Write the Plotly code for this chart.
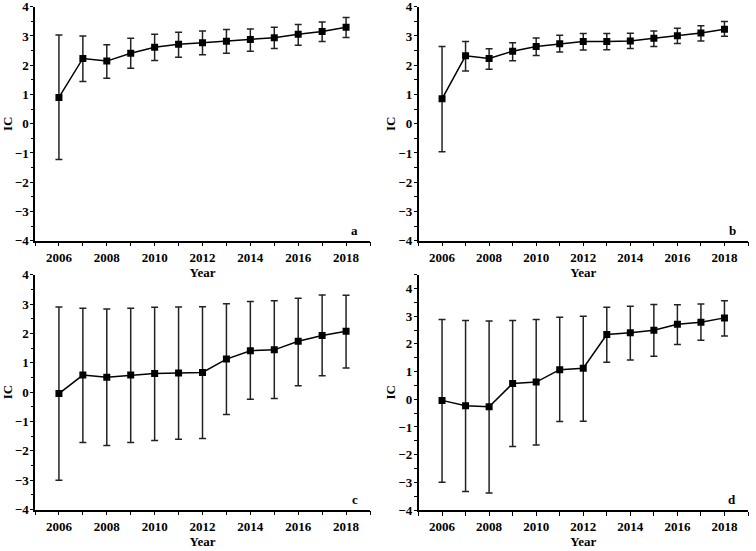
import plotly.graph_objects as go

years = list(range(2006, 2019))

# Panel a
a_mean = [0.90, 2.23, 2.14, 2.41, 2.61, 2.72, 2.77, 2.82, 2.875, 2.94, 3.06, 3.15, 3.30]
a_upper = [3.03, 3.00, 2.70, 2.92, 3.06, 3.13, 3.17, 3.22, 3.24, 3.30, 3.39, 3.48, 3.63]
a_lower = [-1.22, 1.44, 1.55, 1.90, 2.16, 2.27, 2.36, 2.41, 2.48, 2.57, 2.68, 2.81, 2.95]

# Panel b
b_mean = [0.85, 2.32, 2.23, 2.48, 2.64, 2.73, 2.81, 2.81, 2.83, 2.92, 3.01, 3.10, 3.23]
b_upper = [2.64, 2.81, 2.56, 2.77, 2.93, 3.02, 3.08, 3.08, 3.09, 3.17, 3.26, 3.35, 3.49]
b_lower = [-0.96, 1.80, 1.86, 2.15, 2.33, 2.45, 2.52, 2.53, 2.57, 2.64, 2.74, 2.83, 2.99]

# Panel c
c_mean = [-0.05, 0.58, 0.51, 0.58, 0.63, 0.65, 0.67, 1.125, 1.41, 1.44, 1.73, 1.93, 2.07]
c_upper = [2.90, 2.86, 2.83, 2.86, 2.89, 2.90, 2.91, 3.01, 3.09, 3.11, 3.20, 3.31, 3.30]
c_lower = [-3.00, -1.72, -1.82, -1.72, -1.65, -1.61, -1.58, -0.76, -0.24, -0.22, 0.22, 0.56, 0.82]

# Panel d
d_mean = [-0.04, -0.23, -0.27, 0.57, 0.62, 1.07, 1.12, 2.34, 2.40, 2.49, 2.71, 2.78, 2.94]
d_upper = [2.88, 2.85, 2.83, 2.85, 2.88, 2.96, 3.00, 3.32, 3.36, 3.42, 3.41, 3.44, 3.56]
d_lower = [-3.00, -3.33, -3.39, -1.71, -1.65, -0.80, -0.79, 1.34, 1.42, 1.55, 1.98, 2.13, 2.29]

panel_labels = ["a", "b", "c", "d"]
x_tickvals = list(range(2005, 2020))
x_ticktext = [str(v) if v % 2 == 0 and 2006 <= v <= 2018 else "" for v in x_tickvals]
y_ticks = [-4, -3, -2, -1, 0, 1, 2, 3, 4]

FONT = "Times New Roman, Liberation Serif, serif"

panels = [
    (a_mean, a_upper, a_lower, "x", "y", [35/756, 370/756], [310.3/551, 544.3/551], [-4, 4]),
    (b_mean, b_upper, b_lower, "x2", "y2", [418.5/756, 748/756], [310.3/551, 544.3/551], [-4, 4]),
    (c_mean, c_upper, c_lower, "x3", "y3", [35/756, 370/756], [41.5/551, 276.3/551], [-4, 4]),
    (d_mean, d_upper, d_lower, "x4", "y4", [418.5/756, 748/756], [41/551, 276.3/551], [-4, 4.5]),
]

fig = go.Figure()
layout = dict(
    width=756, height=551,
    margin=dict(l=0, r=0, t=0, b=0),
    paper_bgcolor="white", plot_bgcolor="white",
    showlegend=False,
    font=dict(family=FONT, size=13, color="black"),
)

annotations = []
for i, (m, up, lo, xa, ya, xd, yd, yr) in enumerate(panels):
    err_p = [u - v for u, v in zip(up, m)]
    err_m = [v - l for v, l in zip(m, lo)]
    fig.add_trace(go.Scatter(
        x=years, y=m, xaxis=xa, yaxis=ya, mode="lines+markers",
        line=dict(color="black", width=1.5),
        marker=dict(symbol="square", size=7, color="black"),
        error_y=dict(type="data", symmetric=False, array=err_p, arrayminus=err_m,
                     color="#222222", thickness=1.5, width=3.5),
    ))
    xk = "xaxis" if i == 0 else f"xaxis{i+1}"
    yk = "yaxis" if i == 0 else f"yaxis{i+1}"
    layout[xk] = dict(
        domain=xd, anchor=ya, range=[2005, 2019], automargin=False,
        ticklabeloverflow="allow",
        tickvals=x_tickvals, ticktext=x_ticktext,
        ticks="outside", ticklen=4, tickwidth=1.3, tickcolor="black",
        showline=True, linecolor="black", linewidth=1.5,
        showgrid=False, zeroline=False,
        tickfont=dict(family=FONT, size=13, color="black", weight="bold"),
        title=dict(text="<b>Year</b>", font=dict(family=FONT, size=13), standoff=4),
    )
    layout[yk] = dict(
        domain=yd, anchor=xa, range=yr, automargin=False,
        ticklabeloverflow="allow", ticklabelstandoff=-1,
        tickvals=y_ticks, ticks="outside", ticklen=3, tickwidth=1.3, tickcolor="black",
        minor=dict(dtick=0.5, tick0=0, ticks="outside", ticklen=2.5, tickcolor="black", tickwidth=1),
        showline=True, linecolor="black", linewidth=1.5,
        showgrid=False, zeroline=False,
        tickfont=dict(family=FONT, size=13, color="black", weight="bold"),
        title=dict(text="<b>IC</b>", font=dict(family=FONT, size=13), standoff=0),
    )
    annotations.append(dict(
        x=1, y=0, xref=f"{xa} domain", yref=f"{ya} domain",
        text=f"<b>{panel_labels[i]}</b>", showarrow=False,
        xanchor="right", yanchor="bottom", xshift=-10, yshift=1,
        font=dict(family=FONT, size=13, color="black"),
    ))

layout["annotations"] = annotations
fig.update_layout(**layout)
fig.write_html("out.html", config={"displayModeBar": False},
               post_script="document.body.style.margin='0';")
